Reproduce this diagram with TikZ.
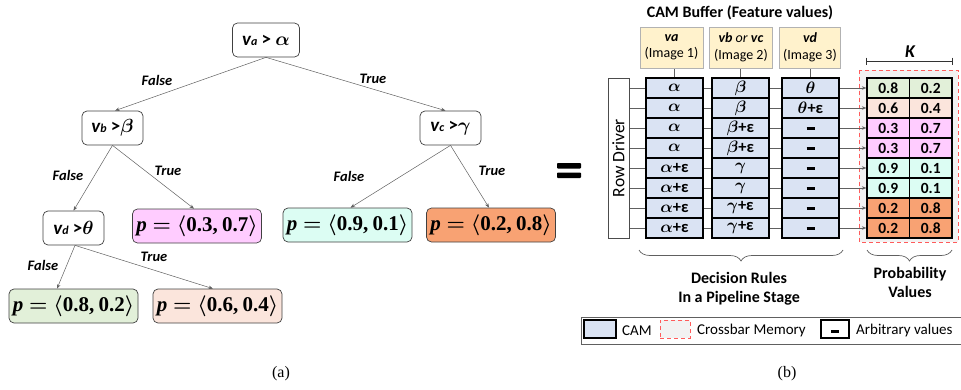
\RequirePackage{fix-cm}
\documentclass[tikz,border=0pt]{standalone}
\usepackage{amsmath}
\usepackage{bm}
\usepackage{fontspec}
\newfontfamily\calib{Carlito}
\newfontfamily\capserif{Liberation Serif}
\usetikzlibrary{arrows.meta,calc,decorations.pathreplacing}

\definecolor{camblue}{HTML}{DAE3F3}
\definecolor{hdryel}{HTML}{FFF2CC}
\definecolor{pgreen}{HTML}{E2F0D9}
\definecolor{ppeach}{HTML}{FBE5DC}
\definecolor{ppink}{HTML}{FFCCFF}
\definecolor{pcyan}{HTML}{DCFDF3}
\definecolor{porange}{HTML}{F8A273}
\definecolor{xbarfill}{HTML}{F2F2F2}
\definecolor{xbarred}{HTML}{FF5B5B}
\definecolor{edgegray}{HTML}{606060}

\pgfdeclarelayer{bgzero}
\pgfdeclarelayer{bgone}
\pgfsetlayers{bgzero,bgone,main}

% small helpers for cell contents
\newcommand\plusep{{\calib\bfseries +ε}}
\newcommand\arbval{\rule{8pt}{3pt}}
\newcommand\condvar[1]{{\itshape v{\fontsize{12}{12}\selectfont #1}}}
\newcommand\probvec[2]{{\capserif\bfseries\itshape p\/}\hspace{0.28em}$\bm{=}$\hspace{0.28em}$\langle$%
  {\capserif\bfseries #1,\hspace{0.2em}#2}$\rangle$}

\tikzset{
  tn/.style={draw=black!75, line width=0.7pt, rounded corners=5pt, fill=white,
    minimum height=34pt, minimum width=61pt, inner sep=0pt,
    font=\calib\bfseries\fontsize{19}{19}\selectfont\boldmath},
  pn/.style={tn, minimum width=129pt, font=\fontsize{21}{21}\selectfont\boldmath},
  lbl/.style={inner sep=0pt, font=\calib\bfseries\itshape\fontsize{14.5}{14.5}\selectfont},
  edge/.style={draw=edgegray, line width=0.5pt, -{Stealth[length=4.5pt,width=3.5pt]}},
  hdr/.style={draw=black!30, fill=hdryel, line width=0.6pt, minimum width=63pt,
    minimum height=41pt, inner sep=0pt, align=center,
    font=\calib\fontsize{14}{16.5}\selectfont},
  cam/.style={draw=black, line width=1.3pt, fill=camblue, minimum width=57pt,
    minimum height=20pt, inner sep=0pt, font=\fontsize{16.5}{16.5}\selectfont\boldmath},
  pc/.style={draw=black, line width=1.3pt, minimum width=42.5pt, minimum height=20pt,
    inner sep=0pt, font=\calib\bfseries\fontsize{15.5}{15.5}\selectfont},
  rowline/.style={draw=edgegray, line width=0.5pt, -{Stealth[length=4.5pt,width=3.5pt]}},
  xbar/.style={draw=xbarred, fill=xbarfill, line width=0.8pt, dash pattern=on 4pt off 3pt},
  bracegray/.style={draw=edgegray, line width=0.7pt,
    decorate, decoration={brace, mirror, amplitude=11pt}},
  txt/.style={inner sep=0pt, font=\calib\fontsize{15}{15}\selectfont},
  boldtxt/.style={inner sep=0pt, align=center, font=\calib\bfseries\fontsize{16}{19}\selectfont},
  capstyle/.style={inner sep=0pt, font=\capserif\fontsize{16}{16}\selectfont}
}

\begin{document}
\begin{tikzpicture}[x=1pt, y=-1pt]
\useasboundingbox (0,0) rectangle (961,389);

% ---------------- (a) decision tree ----------------
\node[tn, minimum width=67pt] (ra) at (266,40) {\condvar{a} > $\alpha$};
\node[tn] (vb) at (112.5,128) {\condvar{b} >$\beta$};
\node[tn] (vc) at (450.5,128) {\condvar{c} >$\gamma$};
\node[tn] (vd) at (73.5,228) {\condvar{d} >$\theta$};

\node[pn, fill=ppink]   (p37) at (197,226)   {\probvec{0.3}{0.7}};
\node[pn, fill=pcyan]   (p91) at (347.5,225) {\probvec{0.9}{0.1}};
\node[pn, fill=porange] (p28) at (491,225)   {\probvec{0.2}{0.8}};
\node[pn, fill=pgreen]  (p82) at (73.5,306)  {\probvec{0.8}{0.2}};
\node[pn, fill=ppeach]  (p64) at (217.5,306) {\probvec{0.6}{0.4}};

\draw[edge] (ra.south) -- ($(vb.north)+(2.5,0)$);
\draw[edge] (ra.south) -- ($(vc.north)+(-5,0)$);
\draw[edge] (vb.south) -- (vd.north);
\draw[edge] (vb.south) -- ($(p37.north)+(-3,0)$);
\draw[edge] (vc.south) -- ($(p91.north)+(3,0)$);
\draw[edge] (vc.south) -- ($(p28.north)+(-2,0)$);
\draw[edge] ($(vd.south)+(1.5,0)$) -- ($(p82.north)+(-16.5,0)$);
\draw[edge] ($(vd.south)+(1.5,0)$) -- ($(p64.north)+(-4.5,0)$);

\node[lbl] (l1) at (157,80)  {False};
\node[lbl] (l2) at (373,79)  {True};
\node[lbl] (l3) at (68,175)  {False};
\node[lbl] (l4) at (168,171) {True};
\node[lbl] (l5) at (349,176) {False};
\node[lbl] (l6) at (492,171) {True};
\node[lbl] (l7) at (43,265)  {False};
\node[lbl] (l8) at (154,257) {True};

\node[capstyle] (capa) at (281,374) {(a)};

% ---------------- equals sign ----------------
\fill[rounded corners=0.8pt] (557,163) rectangle (581,168.5);
\fill[rounded corners=0.8pt] (557,172.5) rectangle (581,178);

% ---------------- (b) CAM buffer and crossbar ----------------
\node[boldtxt] (title) at (740,13) {CAM Buffer (Feature values)};

\node[hdr] (ha) at (671.5,47.5) {\textbf{\textit{va}}\\(Image 1)};
\node[hdr] (hb) at (741,47.5) {\textbf{\textit{vb}} \textit{or} \textbf{\textit{vc}}\\(Image 2)};
\node[hdr, minimum width=61pt] (hd) at (810,47.5) {\textbf{\textit{vd}}\\(Image 3)};

\node[draw=black!70, line width=0.6pt, fill=white, minimum width=21pt,
      minimum height=160pt, inner sep=0pt] (rd) at (618.5,158) {};
\node[txt, rotate=90, font=\calib\fontsize{17.5}{17.5}\selectfont] (rdtext) at (rd.center) {Row Driver};

\foreach \i/\ca/\cb/\cc in {
  1/{$\alpha$}/{$\beta$}/{$\theta$},
  2/{$\alpha$}/{$\beta$}/{$\theta$\plusep},
  3/{$\alpha$}/{$\beta$\plusep}/{\arbval},
  4/{$\alpha$}/{$\beta$\plusep}/{\arbval},
  5/{$\alpha$\plusep}/{$\gamma$}/{\arbval},
  6/{$\alpha$\plusep}/{$\gamma$}/{\arbval},
  7/{$\alpha$\plusep}/{$\gamma$\plusep}/{\arbval},
  8/{$\alpha$\plusep}/{$\gamma$\plusep}/{\arbval}}
{
  \node[cam] (a\i) at (674.5,68+20*\i) {\ca};
  \node[cam] (b\i) at (740.5,68+20*\i) {\cb};
  \node[cam] (d\i) at (810.5,68+20*\i) {\cc};
}

\foreach \i/\vl/\vr/\cl in {1/0.8/0.2/pgreen, 2/0.6/0.4/ppeach, 3/0.3/0.7/ppink,
  4/0.3/0.7/ppink, 5/0.9/0.1/pcyan, 6/0.9/0.1/pcyan, 7/0.2/0.8/porange, 8/0.2/0.8/porange}
{
  \node[pc, fill=\cl] (pl\i) at (888.25,68+20*\i) {\vl};
  \node[pc, fill=\cl] (pr\i) at (930.75,68+20*\i) {\vr};
}

% crossbar memory outline and row wires behind the cells
\begin{pgfonlayer}{bgzero}
  \draw[xbar] (859,70) rectangle (958,242);
\end{pgfonlayer}
\begin{pgfonlayer}{bgone}
  \foreach \i in {1,...,8} {
    \draw[rowline] (rd.east |- a\i) -- (pl\i.west);
  }
  \draw[draw=edgegray, line width=0.6pt] (a1.north) -- (a1.north |- ha.south);
  \draw[draw=edgegray, line width=0.6pt] (b1.north) -- (b1.north |- hb.south);
  \draw[draw=edgegray, line width=0.6pt] (d1.north) -- (d1.north |- hd.south);
\end{pgfonlayer}

% K dimension bracket
\coordinate (kl) at (pl1.west |- 0,61);
\coordinate (kr) at (pr1.east |- 0,61);
\draw[black!80, line width=0.8pt] (kl) -- (kr);
\draw[black!80, line width=0.8pt] ($(kl)+(0,-3.5)$) -- ($(kl)+(0,3.5)$);
\draw[black!80, line width=0.8pt] ($(kr)+(0,-3.5)$) -- ($(kr)+(0,3.5)$);
\node[inner sep=0pt, font=\calib\bfseries\itshape\fontsize{18}{18}\selectfont] (k) at (910,52) {K};

% braces and their captions
\coordinate (bl) at (639,250);
\coordinate (br) at (843,250);
\draw[bracegray] (bl) -- (br);
\coordinate (ql) at (867,250);
\coordinate (qr) at (952,250);
\draw[bracegray] (ql) -- (qr);
\node[boldtxt] (rules) at (739,288.5) {Decision Rules\\In a Pipeline Stage};
\node[boldtxt] (probs) at (910,282.5) {Probability\\Values};

% legend
\draw[edgegray, line width=0.8pt] (963,317) -- (581,317) -- (581,344) -- (963,344);
\node[draw=black, line width=1.3pt, fill=camblue, minimum width=32pt, minimum height=18pt,
      inner sep=0pt] (lgcam) at (600,329) {};
\node[txt, anchor=west] (lgcamt) at (622,330.5) {CAM};
\node[xbar, minimum width=30pt, minimum height=18pt, inner sep=0pt] (lgx) at (675,329) {};
\node[txt, anchor=west] (lgxt) at (697,330.5) {Crossbar Memory};
\node[draw=black, line width=1.3pt, fill=white, minimum width=28pt, minimum height=18pt,
      inner sep=0pt] (lgarb) at (835,329) {};
\fill (831,329.5) rectangle (839,332.5);
\node[txt, anchor=west] (lgarbt) at (856,330.5) {Arbitrary values};

\node[capstyle] (capb) at (787,374) {(b)};
\end{tikzpicture}
\end{document}
